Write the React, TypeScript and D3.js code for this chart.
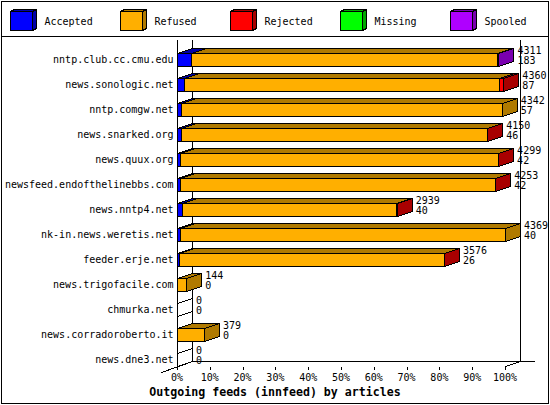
import React from "react";
import * as d3 from "d3";

const hosts = [
  "nntp.club.cc.cmu.edu",
  "news.sonologic.net",
  "nntp.comgw.net",
  "news.snarked.org",
  "news.quux.org",
  "newsfeed.endofthelinebbs.com",
  "news.nntp4.net",
  "nk-in.news.weretis.net",
  "feeder.erje.net",
  "news.trigofacile.com",
  "chmurka.net",
  "news.corradoroberto.it",
  "news.dne3.net",
];
const offered = [4311, 4360, 4342, 4150, 4299, 4253, 2939, 4369, 3576, 144, 0, 379, 0];
const acceptedCount = [183, 87, 57, 46, 42, 42, 40, 40, 26, 0, 0, 0, 0];

const categories = ["Accepted", "Refused", "Rejected", "Missing", "Spooled"];
const acceptedPct = [4.2, 2.0, 1.3, 1.1, 1.0, 1.0, 1.4, 0.9, 0.7, 0, 0, 0, 0];
const refusedPct = [93.3, 96.3, 97.7, 93.4, 96.8, 95.9, 65.5, 99.1, 80.6, 2.8, 0, 8.2, 0];
const rejectedPct = [0.4, 1.2, 0, 0.1, 0.1, 0.1, 0.1, 0, 0.1, 0, 0, 0, 0];
const missingPct = [0, 0, 0, 0, 0, 0, 0, 0, 0, 0, 0, 0, 0];
const spooledPct = [0.1, 0, 0, 0, 0, 0, 0, 0, 0, 0, 0, 0, 0];
const tickValues = [0, 10, 20, 30, 40, 50, 60, 70, 80, 90, 100];

const colors = ["#0000ff", "#ffaf00", "#ff0000", "#00ff00", "#af00ff"];
const darkColors = ["#0000a8", "#b07a00", "#a80000", "#00a800", "#7a00b0"];

const title = "Outgoing feeds (innfeed) by articles";
const FONT = "'DejaVu Sans Mono', 'Liberation Mono', monospace";

const px = (v: number) => Math.round(v) + 0.5;

export default function App() {
  const x = d3.scaleLinear().domain([0, 100]).range([177, 505]);
  const y = d3.scaleBand<string>().domain(hosts).range([47, 372]).paddingInner(0.5).paddingOuter(0.25);
  const bw = y.bandwidth();
  const DX = 15;
  const DY = 5;
  const series = [acceptedPct, refusedPct, rejectedPct, missingPct, spooledPct];

  const top = 40;
  const floorBack = px(y(hosts[hosts.length - 1])! + bw - DY);
  const floorFront = px(y(hosts[hosts.length - 1])! + bw);
  const x0 = px(x(0));
  const x100 = px(x(100));

  const bars: React.ReactNode[] = [];
  const labels: React.ReactNode[] = [];
  hosts.forEach((h, i) => {
    const yt = px(y(h)!);
    const yb = px(y(h)! + bw);
    let cum = 0;
    let total = 0;
    series.forEach((s) => (total += s[i]));
    if (total === 0) {
      bars.push(
        <polygon
          key={`z${i}`}
          points={`${x0},${yt} ${x0 + DX},${yt - DY} ${x0 + DX},${yb - DY} ${x0},${yb}`}
          fill="#fff"
          stroke="#000"
        />
      );
    } else {
      series.forEach((s, k) => {
        const v = s[i];
        if (v <= 0) return;
        const x1 = px(x(cum));
        cum += v;
        const x2 = px(x(cum));
        bars.push(
          <g key={`b${i}-${k}`}>
            <rect x={x1} y={yt} width={Math.max(0, x2 - x1)} height={yb - yt} fill={colors[k]} stroke="#000" />
            <polygon
              points={`${x1},${yt} ${x2},${yt} ${x2 + DX},${yt - DY} ${x1 + DX},${yt - DY}`}
              fill={darkColors[k]}
              stroke="#000"
            />
            <polygon
              points={`${x2},${yt} ${x2 + DX},${yt - DY} ${x2 + DX},${yb - DY} ${x2},${yb}`}
              fill={darkColors[k]}
              stroke="#000"
            />
          </g>
        );
      });
    }
    const lx = x(total) + 19;
    const yr = y(h)!;
    labels.push(
      <g key={`l${i}`} fontFamily={FONT} fontSize={10} fill="#000">
        <text x={lx} y={yr + 0.6}>{offered[i]}</text>
        <text x={lx} y={yr + 11}>{acceptedCount[i]}</text>
      </g>
    );
  });

  return (
    <svg
      width={550}
      height={405}
      style={{ position: "absolute", left: 0, top: 0, background: "#fff" }}
      shapeRendering="crispEdges"
    >
      <rect x={0} y={0} width={550} height={405} fill="#fff" />
      <rect x={1.5} y={1.5} width={547} height={402} fill="none" stroke="#000" />
      <line x1={1.5} x2={548.5} y1={36.5} y2={36.5} stroke="#000" />

      {/* legend */}
      {categories.map((c, k) => {
        const bx = 10.5 + 110 * k;
        const by = 11.5;
        const w = 22;
        const hgt = 19;
        const ddx = 4;
        const ddy = 2;
        return (
          <g key={c}>
            <rect x={bx} y={by} width={w} height={hgt} fill={colors[k]} stroke="#000" />
            <polygon
              points={`${bx},${by} ${bx + w},${by} ${bx + w + ddx},${by - ddy} ${bx + ddx},${by - ddy}`}
              fill={darkColors[k]}
              stroke="#000"
            />
            <polygon
              points={`${bx + w},${by} ${bx + w + ddx},${by - ddy} ${bx + w + ddx},${by + hgt - ddy} ${bx + w},${by + hgt}`}
              fill={darkColors[k]}
              stroke="#000"
            />
            <text x={bx + 34} y={24.5} fontFamily={FONT} fontSize={10} fill="#000">
              {c}
            </text>
          </g>
        );
      })}

      {/* back plane */}
      <line x1={x0 + DX} x2={x0 + DX} y1={top} y2={floorBack} stroke="#000" />
      <line x1={x100 + DX} x2={x100 + DX} y1={top} y2={floorBack} stroke="#000" />
      <line x1={x0 + DX} x2={534.5} y1={floorBack} y2={floorBack} stroke="#000" />
      <line x1={x0 - 16} y1={floorFront + 6} x2={x0 + DX} y2={floorBack} stroke="#000" />
      <line x1={x100} y1={floorFront} x2={x100 + DX} y2={floorBack} stroke="#000" />

      {/* front axis */}
      <line x1={x0} x2={x0} y1={top} y2={370} stroke="#000" />
      {tickValues.map((t) => (
        <g key={`t${t}`}>
          <line x1={px(x(t))} x2={px(x(t))} y1={floorFront} y2={370} stroke="#000" />
          <text x={x(t)} y={381} textAnchor="middle" fontFamily={FONT} fontSize={10} fill="#000">
            {`${t}%`}
          </text>
        </g>
      ))}

      {/* host labels */}
      {hosts.map((h) => (
        <text key={h} x={173.5} y={y(h)! + bw / 2 + 3.6} textAnchor="end" fontFamily={FONT} fontSize={10} fill="#000">
          {h}
        </text>
      ))}

      {bars}
      {labels}

      <text x={275} y={396} textAnchor="middle" fontFamily={FONT} fontSize={11.6} fontWeight="bold" fill="#000">
        {title}
      </text>
    </svg>
  );
}
